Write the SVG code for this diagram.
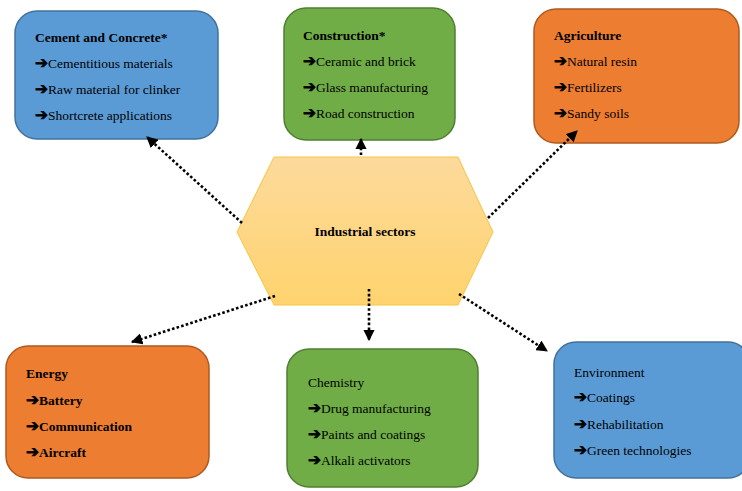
<svg xmlns="http://www.w3.org/2000/svg" width="742" height="491" viewBox="0 0 742 491">
<defs>
<linearGradient id="hexg" x1="0" y1="0" x2="0" y2="1">
<stop offset="0" stop-color="#FDDA9C"/>
<stop offset="1" stop-color="#FFD36E"/>
</linearGradient>
<marker id="ah" viewBox="0 0 10 10" refX="9" refY="5" markerWidth="4.4" markerHeight="4.4" orient="auto" markerUnits="strokeWidth">
<path d="M0,0 L10,5 L0,10 Z" fill="#000"/>
</marker>
<style>
.box{stroke-width:1.5}
.blue{fill:#5B9BD5;stroke:#41719C}
.green{fill:#70AD47;stroke:#507E32}
.orange{fill:#ED7D31;stroke:#AE5A21}
.t{font-weight:bold}
.b{font-weight:bold}
.ar{font-family:'DejaVu Sans',sans-serif;font-weight:bold;font-size:15.5px;stroke:#000;stroke-width:0.7}
.con{fill:none;stroke:#000;stroke-width:2.6;stroke-dasharray:2.6 2.2;marker-end:url(#ah)}
</style>
</defs>
<rect width="742" height="491" fill="#fff"/>
<g font-family="'Liberation Serif', 'Times New Roman', 'DejaVu Serif', serif" font-size="13.5" fill="#000">
<g id="industrial-sectors">
<polygon points="274,157 458,157 493,232 458,305 274,305 237,232" fill="url(#hexg)" stroke="#F4C542" stroke-width="1"/>
<text class="t" x="365" y="236" text-anchor="middle">Industrial sectors</text>
</g>
<g id="cement">
<rect class="box blue" x="15" y="11" width="203" height="128" rx="22"/>
<text class="t" x="35" y="42">Cement and Concrete*</text>
<text x="35" y="68"><tspan class="ar">➔</tspan>Cementitious materials</text>
<text x="35" y="94"><tspan class="ar">➔</tspan>Raw material for clinker</text>
<text x="35" y="120"><tspan class="ar">➔</tspan>Shortcrete applications</text>
</g>
<g id="construction">
<rect class="box green" x="284" y="8" width="171" height="132" rx="22"/>
<text class="t" x="303" y="40">Construction*</text>
<text x="303" y="66"><tspan class="ar">➔</tspan>Ceramic and brick</text>
<text x="303" y="92"><tspan class="ar">➔</tspan>Glass manufacturing</text>
<text x="303" y="118"><tspan class="ar">➔</tspan>Road construction</text>
</g>
<g id="agriculture">
<rect class="box orange" x="534" y="9" width="205" height="134" rx="22"/>
<text class="t" x="554" y="40">Agriculture</text>
<text x="554" y="66"><tspan class="ar">➔</tspan>Natural resin</text>
<text x="554" y="92"><tspan class="ar">➔</tspan>Fertilizers</text>
<text x="554" y="118"><tspan class="ar">➔</tspan>Sandy soils</text>
</g>
<g id="energy">
<rect class="box orange" x="6" y="346" width="203" height="132" rx="22"/>
<text class="t" x="26" y="378">Energy</text>
<text class="b" x="26" y="405"><tspan class="ar">➔</tspan>Battery</text>
<text class="b" x="26" y="431"><tspan class="ar">➔</tspan>Communication</text>
<text class="b" x="26" y="457"><tspan class="ar">➔</tspan>Aircraft</text>
</g>
<g id="chemistry">
<rect class="box green" x="287" y="349" width="191" height="138" rx="22"/>
<text x="308" y="387">Chemistry</text>
<text x="308" y="413"><tspan class="ar">➔</tspan>Drug manufacturing</text>
<text x="308" y="439"><tspan class="ar">➔</tspan>Paints and coatings</text>
<text x="308" y="465"><tspan class="ar">➔</tspan>Alkali activators</text>
</g>
<g id="environment">
<rect class="box blue" x="554" y="342" width="196" height="136" rx="22"/>
<text x="574" y="377">Environment</text>
<text x="574" y="402"><tspan class="ar">➔</tspan>Coatings</text>
<text x="574" y="429"><tspan class="ar">➔</tspan>Rehabilitation</text>
<text x="574" y="455"><tspan class="ar">➔</tspan>Green technologies</text>
</g>
</g>
<g id="connectors">
<line class="con" x1="242" y1="223" x2="147" y2="137"/>
<line class="con" x1="361" y1="155" x2="361" y2="139"/>
<line class="con" x1="488" y1="218" x2="577" y2="131"/>
<line class="con" x1="275" y1="296" x2="132" y2="342"/>
<line class="con" x1="369" y1="289" x2="369" y2="340"/>
<line class="con" x1="459" y1="294" x2="547" y2="351"/>
</g>
</svg>
